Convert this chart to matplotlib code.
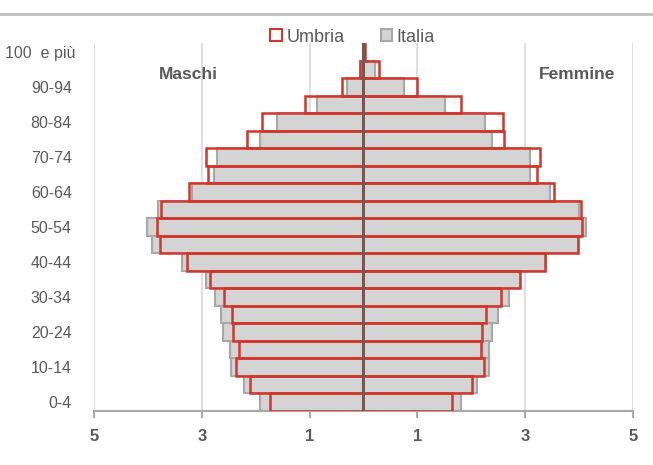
import numpy as np
import matplotlib.pyplot as plt
import matplotlib.transforms as mtransforms
from matplotlib.patches import Patch
from matplotlib.lines import Line2D

plt.rcParams['font.family'] = ['Liberation Sans', 'DejaVu Sans']

# Age classes, bottom to top
ages = ['0-4', '5-9', '10-14', '15-19', '20-24', '25-29', '30-34', '35-39',
        '40-44', '45-49', '50-54', '55-59', '60-64', '65-69', '70-74',
        '75-79', '80-84', '85-89', '90-94', '95-99', '100  e più']

# Share of population (%) by sex
umbria_m = [1.73, 2.10, 2.36, 2.31, 2.42, 2.44, 2.58, 2.84, 3.28, 3.78, 3.83,
            3.75, 3.24, 2.88, 2.93, 2.16, 1.88, 1.09, 0.40, 0.07, 0.01]
umbria_f = [1.64, 2.02, 2.24, 2.18, 2.21, 2.28, 2.56, 2.91, 3.38, 3.98, 4.06,
            4.03, 3.54, 3.22, 3.28, 2.61, 2.59, 1.81, 0.99, 0.29, 0.03]
italia_m = [1.91, 2.22, 2.46, 2.48, 2.60, 2.64, 2.75, 2.93, 3.36, 3.92, 4.01,
            3.81, 3.19, 2.78, 2.71, 1.91, 1.60, 0.86, 0.31, 0.06, 0.01]
italia_f = [1.82, 2.11, 2.33, 2.33, 2.38, 2.50, 2.70, 2.90, 3.39, 3.98, 4.14,
            4.00, 3.46, 3.09, 3.09, 2.38, 2.25, 1.51, 0.75, 0.22, 0.03]

xticks = [-5, -3, -1, 1, 3, 5]
xtick_labels = ['5', '3', '1', '1', '3', '5']

RED = '#d0362a'
GREY_FILL = '#d4d4d4'
GREY_EDGE = '#a8a8a8'
TEXT = '#595959'

fig = plt.figure(figsize=(6.53, 4.65), dpi=100)
ax = fig.add_axes([0.144, 0.1161, 0.825, 0.7914])

y = np.arange(len(ages))

# Italia as filled grey bars, Umbria as red outlines on top
ax.barh(y, -np.array(italia_m), height=1.0, color=GREY_FILL,
        edgecolor=GREY_EDGE, linewidth=1.5, zorder=2)
ax.barh(y, italia_f, height=1.0, color=GREY_FILL,
        edgecolor=GREY_EDGE, linewidth=1.5, zorder=2)
ax.barh(y, -np.array(umbria_m), height=1.0, fill=False,
        edgecolor=RED, linewidth=1.8, zorder=3)
ax.barh(y, umbria_f, height=1.0, fill=False,
        edgecolor=RED, linewidth=1.8, zorder=3)

ax.axvline(0, color='#6b5a5a', linewidth=2, zorder=4)

ax.set_xlim(-5, 5)
ax.set_ylim(-0.5, len(ages) - 0.5)

ax.set_xticks(xticks)
ax.set_xticklabels(xtick_labels, fontsize=12, fontweight='bold', color=TEXT)
ax.set_yticks(y[::2])
ax.set_yticklabels(ages[::2], fontsize=11.5, color=TEXT)
ax.tick_params(axis='y', length=0, pad=16)
ax.tick_params(axis='x', length=5, width=1.5, color=GREY_EDGE, pad=8)

# the top label sits a little further right than the others
top_label = ax.get_yticklabels()[-1]
top_label.set_transform(top_label.get_transform() +
                        mtransforms.ScaledTranslation(4 / 100, 0, fig.dpi_scale_trans))

ax.grid(axis='x', color='#d9d9d9', linewidth=1.2, zorder=0)
ax.set_axisbelow(True)
for side in ['top', 'right', 'left']:
    ax.spines[side].set_visible(False)
ax.spines['bottom'].set_color(GREY_EDGE)
ax.spines['bottom'].set_linewidth(1.5)

ax.text(-3.25, 18.7, 'Maschi', fontsize=12.5, fontweight='bold', color=TEXT,
        ha='center', va='center')
ax.text(3.96, 18.7, 'Femmine', fontsize=12.5, fontweight='bold', color=TEXT,
        ha='center', va='center')

handles = [Patch(facecolor='white', edgecolor=RED, linewidth=1.5, label='Umbria'),
           Patch(facecolor=GREY_FILL, edgecolor=GREY_EDGE, linewidth=1.5, label='Italia')]
fig.legend(handles=handles, loc='center', bbox_to_anchor=(0.54, 0.92), ncol=2,
           frameon=False, fontsize=13, handlelength=0.65, handleheight=0.65,
           handletextpad=0.25, columnspacing=2.0, labelcolor=TEXT)

# thin rule across the top of the figure
fig.add_artist(Line2D([0, 1], [0.97, 0.97], transform=fig.transFigure,
                      color='#bfbfbf', linewidth=2))

fig.savefig('out.png', dpi=100)
